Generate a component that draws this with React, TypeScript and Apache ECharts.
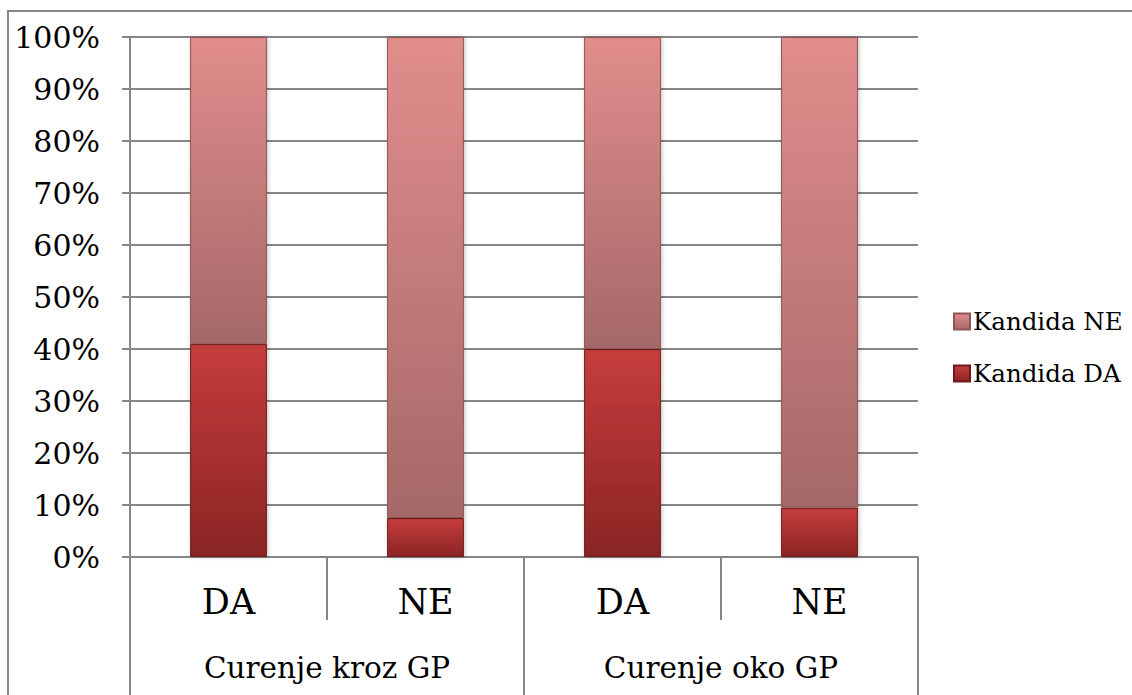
import React, { useEffect, useRef } from "react";
import * as echarts from "echarts";

const categories = ["DA", "NE", "DA", "NE"];
const groups = ["Curenje kroz GP", "Curenje oko GP"];
const kandidaDA = [41, 7.5, 40, 9.5];
const kandidaNE = [59, 92.5, 60, 90.5];

const FONT = "DejaVu Serif";
const GRAY = "#868686";

export default function App() {
  const ref = useRef<HTMLDivElement>(null);
  useEffect(() => {
    if (!ref.current) return;
    const chart = echarts.init(ref.current, undefined, { renderer: "svg" });
    const gradDA = new echarts.graphic.LinearGradient(0, 0, 0, 1, [
      { offset: 0, color: "#c63d3c" },
      { offset: 1, color: "#8a2424" },
    ]);
    const gradNE = new echarts.graphic.LinearGradient(0, 0, 0, 1, [
      { offset: 0, color: "#e18d8c" },
      { offset: 1, color: "#a56868" },
    ]);
    chart.setOption({
      animation: false,
      backgroundColor: "#ffffff",
      textStyle: { fontFamily: FONT, color: "#000" },
      graphic: [
        {
          type: "rect",
          shape: { x: 8, y: 11, width: 1140, height: 720 },
          style: { fill: "none", stroke: GRAY, lineWidth: 2 },
          silent: true,
        },
      ],
      legend: {
        orient: "vertical",
        left: 948,
        top: 304,
        itemWidth: 16,
        itemHeight: 16,
        itemGap: 27,
        icon: "rect",
        data: ["Kandida NE", "Kandida DA"],
        textStyle: { fontFamily: FONT, fontSize: 24.5, color: "#000", padding: [0, 0, 0, -2] },
      },
      grid: { left: 130, right: 214, top: 37, bottom: 138, containLabel: false },
      xAxis: [
        {
          type: "category",
          data: categories,
          position: "bottom",
          axisLine: { show: true, lineStyle: { color: GRAY, width: 2 } },
          axisTick: { show: true, length: 63, lineStyle: { color: GRAY, width: 2 } },
          axisLabel: { fontFamily: FONT, fontSize: 35, color: "#000", margin: 27 },
          splitLine: { show: false },
        },
        {
          type: "category",
          data: groups,
          position: "bottom",
          axisLine: { show: false },
          axisTick: { show: true, length: 145, lineStyle: { color: GRAY, width: 2 } },
          axisLabel: { fontFamily: FONT, fontSize: 29.5, color: "#000", margin: 96 },
          splitLine: { show: false },
        },
      ],
      yAxis: {
        type: "value",
        min: 0,
        max: 100,
        interval: 10,
        axisLine: { show: true, lineStyle: { color: GRAY, width: 2 } },
        axisTick: { show: true, length: 8, lineStyle: { color: GRAY, width: 2 } },
        axisLabel: { formatter: "{value}%", fontFamily: FONT, fontSize: 30, color: "#000", margin: 30 },
        splitLine: { show: true, lineStyle: { color: GRAY, width: 2 } },
      },
      series: [
        {
          name: "Kandida DA",
          type: "bar",
          stack: "total",
          data: kandidaDA,
          barWidth: "39%",
          itemStyle: {
            color: gradDA,
            borderColor: "#6f1b1b",
            borderWidth: 1,
            shadowColor: "rgba(0,0,0,0.25)",
            shadowBlur: 4,
            shadowOffsetX: 1,
          },
        },
        {
          name: "Kandida NE",
          type: "bar",
          stack: "total",
          data: kandidaNE,
          barWidth: "39%",
          itemStyle: {
            color: gradNE,
            borderColor: "#8c5656",
            borderWidth: 1,
            shadowColor: "rgba(0,0,0,0.25)",
            shadowBlur: 4,
            shadowOffsetX: 1,
          },
        },
      ],
    });
    return () => chart.dispose();
  }, []);
  return (
    <div
      ref={ref}
      style={{ position: "fixed", left: 0, top: 0, width: 1132, height: 695 }}
    />
  );
}
